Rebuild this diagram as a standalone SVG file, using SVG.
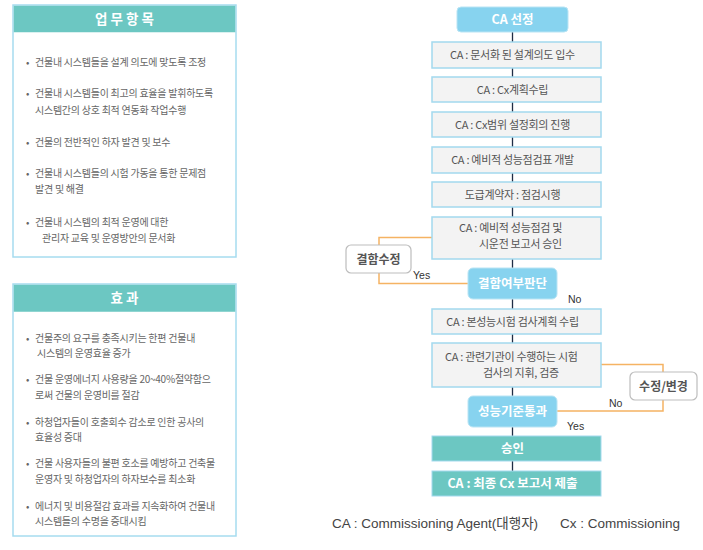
<svg xmlns="http://www.w3.org/2000/svg" width="703" height="550" viewBox="0 0 703 550">
<style>
text{font-family:"Noto Sans CJK KR","Noto Sans",sans-serif}
.panel{fill:#fff;stroke:#a6dcef;stroke-width:1.5}
.phead{fill:#6cc7c2}
.ph{fill:#fff;font-size:13.5px;font-weight:bold;text-anchor:middle}
.li{fill:#666;font-size:10px;letter-spacing:-0.25px}
.box{fill:#f3f3f3;stroke:#a3d9ee;stroke-width:1.5}
.bt{fill:#555;font-size:11px;text-anchor:middle;letter-spacing:-0.3px}
.bl{fill:#555;font-size:11px;letter-spacing:-0.3px}
.dec{fill:#87d3ef;stroke:#b9e4f4;stroke-width:1}
.dt{fill:#fff;font-size:12.5px;font-weight:bold;text-anchor:middle}
.green{fill:#6cc7c2;stroke:#a3d9ee;stroke-width:1}
.side{fill:#fff;stroke:#bdbdbd;stroke-width:1.2}
.st{fill:#555;font-size:12px;font-weight:bold;text-anchor:middle}
.lab{fill:#333;font-size:10.5px;font-family:"Liberation Sans",sans-serif}
.foot{fill:#444;font-size:13.5px;font-family:"Liberation Sans","Noto Sans CJK KR",sans-serif}
.ln{stroke:#1f2d45;stroke-width:1.3;fill:none}
.or{stroke:#f5b363;stroke-width:1.5;fill:none}
</style>

<g id="panel-tasks">
<rect class="panel" x="13" y="5" width="223" height="252"/>
<rect class="phead" x="13.75" y="5.75" width="221.5" height="26.5"/>
<text class="ph" x="124.5" y="23.5">업 무 항 목</text>
<text class="li" x="26" y="66">•</text><text class="li" x="35" y="66">건물내 시스템들을 설계 의도에 맞도록 조정</text>
<text class="li" x="26" y="97">•</text><text class="li" x="35" y="97">건물내 시스템들이 최고의 효율을 발휘하도록</text>
<text class="li" x="35" y="114">시스템간의 상호 최적 연동화 작업수행</text>
<text class="li" x="26" y="146">•</text><text class="li" x="35" y="146">건물의 전반적인 하자 발견 및 보수</text>
<text class="li" x="26" y="177">•</text><text class="li" x="35" y="177">건물내 시스템들의 시험 가동을 통한 문제점</text>
<text class="li" x="35" y="193">발견 및 해결</text>
<text class="li" x="26" y="226">•</text><text class="li" x="35" y="226">건물내 시스템의 최적 운영에 대한</text>
<text class="li" x="42" y="242">관리자 교육 및 운영방안의 문서화</text>
</g>

<g id="panel-effects">
<rect class="panel" x="13" y="284" width="223" height="252"/>
<rect class="phead" x="13.75" y="284.75" width="221.5" height="27"/>
<text class="ph" x="124.5" y="303">효 과</text>
<text class="li" x="26" y="342">•</text><text class="li" x="35" y="342">건물주의 요구를 충족시키는 한편 건물내</text>
<text class="li" x="37" y="357">시스템의 운영효율 증가</text>
<text class="li" x="26" y="383">•</text><text class="li" x="35" y="383">건물 운영에너지 사용량을 20~40%절약함으</text>
<text class="li" x="35" y="399">로써 건물의 운영비를 절감</text>
<text class="li" x="26" y="426">•</text><text class="li" x="35" y="426">하청업자들이 호출회수 감소로 인한 공사의</text>
<text class="li" x="35" y="441">효율성 증대</text>
<text class="li" x="26" y="467">•</text><text class="li" x="35" y="467">건물 사용자들의 불편 호소를 예방하고 건축물</text>
<text class="li" x="35" y="483">운영자 및 하청업자의 하자보수를 최소화</text>
<text class="li" x="26" y="510">•</text><text class="li" x="35" y="510">에너지 및 비용절감 효과를 지속화하여 건물내</text>
<text class="li" x="35" y="525">시스템들의 수명을 증대시킴</text>
</g>

<g id="connectors">
<line class="ln" x1="512.5" y1="32" x2="512.5" y2="471"/>
<polyline class="or" points="432,237.5 379,237.5 379,283.5 468,283.5"/>
<polyline class="or" points="601,364.5 663,364.5 663,411 557,411"/>
<text class="lab" x="413" y="279">Yes</text>
<text class="lab" x="568" y="303">No</text>
<text class="lab" x="609" y="407">No</text>
<text class="lab" x="567" y="430">Yes</text>
</g>

<g id="n-ca-select"><rect class="dec" x="457" y="7" width="111" height="25" rx="4"/><text class="dt" x="512.5" y="24">CA 선정</text></g>
<g id="n-1"><rect class="box" x="432" y="42" width="169" height="26"/><text class="bt" x="512.5" y="59">CA : 문서화 된 설계의도 입수</text></g>
<g id="n-2"><rect class="box" x="432" y="77" width="169" height="25"/><text class="bt" x="512.5" y="93.5">CA : Cx계획수립</text></g>
<g id="n-3"><rect class="box" x="432" y="112" width="169" height="25"/><text class="bt" x="512.5" y="128.5">CA : Cx범위 설정회의 진행</text></g>
<g id="n-4"><rect class="box" x="432" y="147" width="169" height="26"/><text class="bt" x="512.5" y="164">CA : 예비적 성능점검표 개발</text></g>
<g id="n-5"><rect class="box" x="432" y="182" width="169" height="25"/><text class="bt" x="512.5" y="198.5">도급계약자 : 점검시행</text></g>
<g id="n-6"><rect class="box" x="432" y="217" width="169" height="42"/><text class="bl" x="459" y="232">CA : 예비적 성능점검 및</text><text class="bl" x="479" y="248">시운전 보고서 승인</text></g>
<g id="n-defect-check"><rect class="dec" x="468" y="268" width="89" height="31" rx="5"/><text class="dt" x="512.5" y="288">결함여부판단</text></g>
<g id="n-defect-fix"><rect class="side" x="346" y="245" width="65" height="28" rx="5"/><text class="st" x="378.5" y="263.5">결함수정</text></g>
<g id="n-7"><rect class="box" x="432" y="309" width="169" height="25"/><text class="bt" x="512.5" y="325.5">CA : 본성능시험 검사계획 수립</text></g>
<g id="n-8"><rect class="box" x="432" y="343" width="169" height="44"/><text class="bl" x="445" y="361">CA : 관련기관이 수행하는 시험</text><text class="bl" x="483" y="377">검사의 지휘, 검증</text></g>
<g id="n-pass"><rect class="dec" x="468" y="396" width="89" height="31" rx="5"/><text class="dt" x="512.5" y="416">성능기준통과</text></g>
<g id="n-modify"><rect class="side" x="630" y="372" width="67" height="28" rx="5"/><text class="st" x="663.5" y="390.5">수정/변경</text></g>
<g id="n-approve"><rect class="green" x="432" y="436" width="169" height="25"/><text class="dt" x="512.5" y="453">승인</text></g>
<g id="n-final"><rect class="green" x="432" y="471" width="169" height="25"/><text class="dt" x="512.5" y="488">CA : 최종 Cx 보고서 제출</text></g>

<g id="footer">
<text class="foot" x="332" y="528">CA : Commissioning Agent(대행자)</text>
<text class="foot" x="560" y="528">Cx : Commissioning</text>
</g>
</svg>
